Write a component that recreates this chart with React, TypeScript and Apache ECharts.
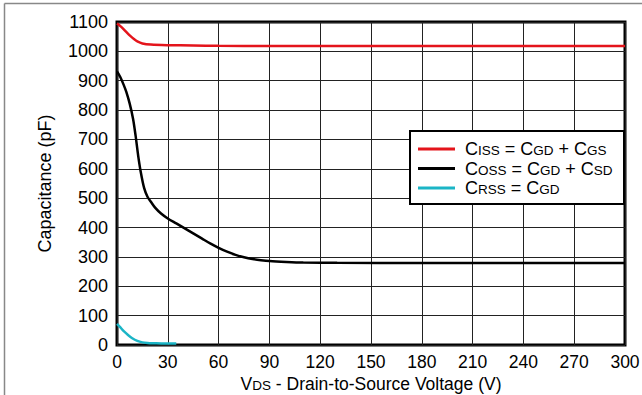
import React, { useEffect, useRef } from "react";
import * as echarts from "echarts";

const xTicks = [0, 30, 60, 90, 120, 150, 180, 210, 240, 270, 300];
const yTicks = [0, 100, 200, 300, 400, 500, 600, 700, 800, 900, 1000, 1100];

const cissData: [number, number][] = [
  [0, 1095], [2, 1086], [4, 1075], [6, 1063], [8, 1052], [10, 1042], [12, 1034],
  [15, 1027], [20, 1023], [30, 1021], [45, 1020], [60, 1019], [90, 1018],
  [150, 1018], [210, 1018], [300, 1018],
];
const cossData: [number, number][] = [
  [0, 932], [2, 912], [4, 885], [5.5, 862], [7.5, 822], [9.5, 770], [11, 712],
  [12.5, 645], [14, 590], [16, 535], [18, 505], [20, 488], [22.5, 468], [26, 448],
  [30, 431], [35, 414], [40, 397], [45, 380], [50, 363], [55, 346], [60, 331],
  [65, 318], [70, 307], [75, 299], [80, 293], [85, 289], [90, 286], [100, 283],
  [110, 281], [130, 280], [180, 279], [240, 279], [300, 279],
];
const crssData: [number, number][] = [
  [0, 72], [2, 60], [4, 47], [6.5, 34], [9, 23], [12, 14], [15, 9], [18, 7],
  [22, 6], [28, 5], [35, 5],
];

const names = ["ciss", "coss", "crss"];
const legendTexts: Record<string, string> = {
  ciss: "C{s|ISS} = C{s|GD} + C{s|GS}",
  coss: "C{s|OSS} = C{s|GD} + C{s|SD}",
  crss: "C{s|RSS} = C{s|GD}",
};

const FONT = "Liberation Sans, Arial, sans-serif";

export default function App() {
  const ref = useRef<HTMLDivElement>(null);
  useEffect(() => {
    if (!ref.current) return;
    const chart = echarts.init(ref.current, undefined, { renderer: "svg" });
    const rich = {
      s: { fontSize: 13.5, fontFamily: FONT, color: "#000", lineHeight: 5, verticalAlign: "bottom" as const },
    };
    chart.setOption({
      animation: false,
      backgroundColor: "#fff",
      textStyle: { fontFamily: FONT },
      grid: {
        left: 117, right: 17, top: 22, bottom: 50,
        containLabel: false, outerBoundsMode: "none",
        show: true, borderColor: "#000", borderWidth: 3, backgroundColor: "transparent",
      },
      legend: {
        orient: "vertical",
        left: 409, top: 130,
        padding: [10, 0, 0, 9],
        icon: "rect", itemWidth: 37, itemHeight: 3, itemGap: 1.5,
        data: names,
        formatter: (n: string) => legendTexts[n],
        textStyle: {
          fontSize: 18, fontFamily: FONT, color: "#000", lineHeight: 17.5,
          padding: [0, 0, 0, 5], rich,
        },
        z: 10,
      },
      xAxis: {
        type: "value", min: xTicks[0], max: xTicks[xTicks.length - 1], interval: 30,
        axisLine: { show: false }, axisTick: { show: false },
        axisLabel: { fontSize: 17.5, lineHeight: 14, color: "#000", margin: 10, fontFamily: FONT, formatter: (v: number) => String(v) },
        splitLine: { lineStyle: { color: "#222", width: 1 } },
        name: "V{s|DS} - Drain-to-Source Voltage (V)",
        nameLocation: "middle", nameGap: 31, nameMoveOverlap: false,
        nameTextStyle: { fontSize: 17.5, lineHeight: 16, color: "#000", fontFamily: FONT, rich },
      },
      yAxis: {
        type: "value", min: yTicks[0], max: yTicks[yTicks.length - 1], interval: 100,
        axisLine: { show: false }, axisTick: { show: false },
        axisLabel: { fontSize: 18, color: "#000", margin: 9, fontFamily: FONT, formatter: (v: number) => String(v) },
        splitLine: { lineStyle: { color: "#222", width: 1 } },
        name: "Capacitance (pF)",
        nameLocation: "middle", nameGap: 63, nameMoveOverlap: false,
        nameTextStyle: { fontSize: 18, color: "#000", fontFamily: FONT },
      },
      graphic: [
        { type: "line", shape: { x1: 4.5, y1: 3.5, x2: 642, y2: 3.5 }, style: { stroke: "#888", lineWidth: 1.5 } },
        { type: "line", shape: { x1: 4.5, y1: 3.5, x2: 4.5, y2: 395 }, style: { stroke: "#888", lineWidth: 1.5 } },
        { type: "rect", z: 5, shape: { x: 410, y: 131, width: 214, height: 73 }, style: { fill: "#fff", stroke: "#000", lineWidth: 2 } },
      ],
      series: [
        { name: "ciss", type: "line", data: cissData, smooth: 0.3, showSymbol: false, lineStyle: { color: "#e4141b", width: 2.5 }, itemStyle: { color: "#e4141b" } },
        { name: "coss", type: "line", data: cossData, smooth: 0.3, showSymbol: false, lineStyle: { color: "#000", width: 2.5 }, itemStyle: { color: "#000" } },
        { name: "crss", type: "line", data: crssData, smooth: 0.3, showSymbol: false, lineStyle: { color: "#1bb5c6", width: 2.5 }, itemStyle: { color: "#1bb5c6" } },
      ],
    });
    return () => chart.dispose();
  }, []);
  return <div ref={ref} style={{ position: "fixed", left: 0, top: 0, width: 642, height: 395 }} />;
}
